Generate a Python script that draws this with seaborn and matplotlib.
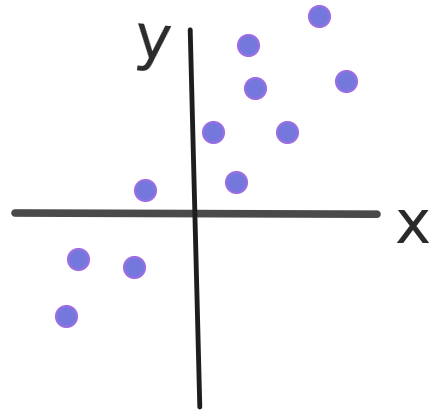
import matplotlib
matplotlib.use("Agg")
import matplotlib.pyplot as plt
import seaborn as sns
import pandas as pd

# points (origin at the axes crossing)
x_vals = [3.10, 1.33, 1.50, 3.78, 0.45, 2.30, 1.03, -1.25, -2.93, -1.53, -3.23]
y_vals = [4.98, 4.25, 3.18, 3.35, 2.08, 2.08, 0.83, 0.63, -1.10, -1.30, -2.53]

df = pd.DataFrame({"x": x_vals, "y": y_vals})

sns.set_theme(style="white")
plt.rcParams["font.family"] = ["DejaVu Sans"]

fig = plt.figure(figsize=(4.35, 4.11), dpi=100)
ax = fig.add_axes([0, 0, 1, 1])

# hand drawn axes
ax.plot([-4.5, 4.55], [0.05, 0.02], color="#4a4a4a", lw=5.5, solid_capstyle="round", zorder=1)
ax.plot([-0.12, 0.12], [4.63, -4.8], color="#1e1e1e", lw=3.5, solid_capstyle="round", zorder=2)

sns.scatterplot(data=df, x="x", y="y", s=230, color="#7478dc",
                edgecolor="#9d6ee2", linewidth=1.5, ax=ax, zorder=3)

ax.text(-1.08, 4.32, "y", fontsize=45, color="#2a2a2a", ha="center", va="center", rotation=-5)
ax.text(5.42, -0.28, "x", fontsize=44, color="#2a2a2a", ha="center", va="center")

ax.set_xlim(-4.875, 6.0)
ax.set_ylim(-4.9, 5.375)
ax.set_axis_off()

fig.savefig("out.png", dpi=100)
